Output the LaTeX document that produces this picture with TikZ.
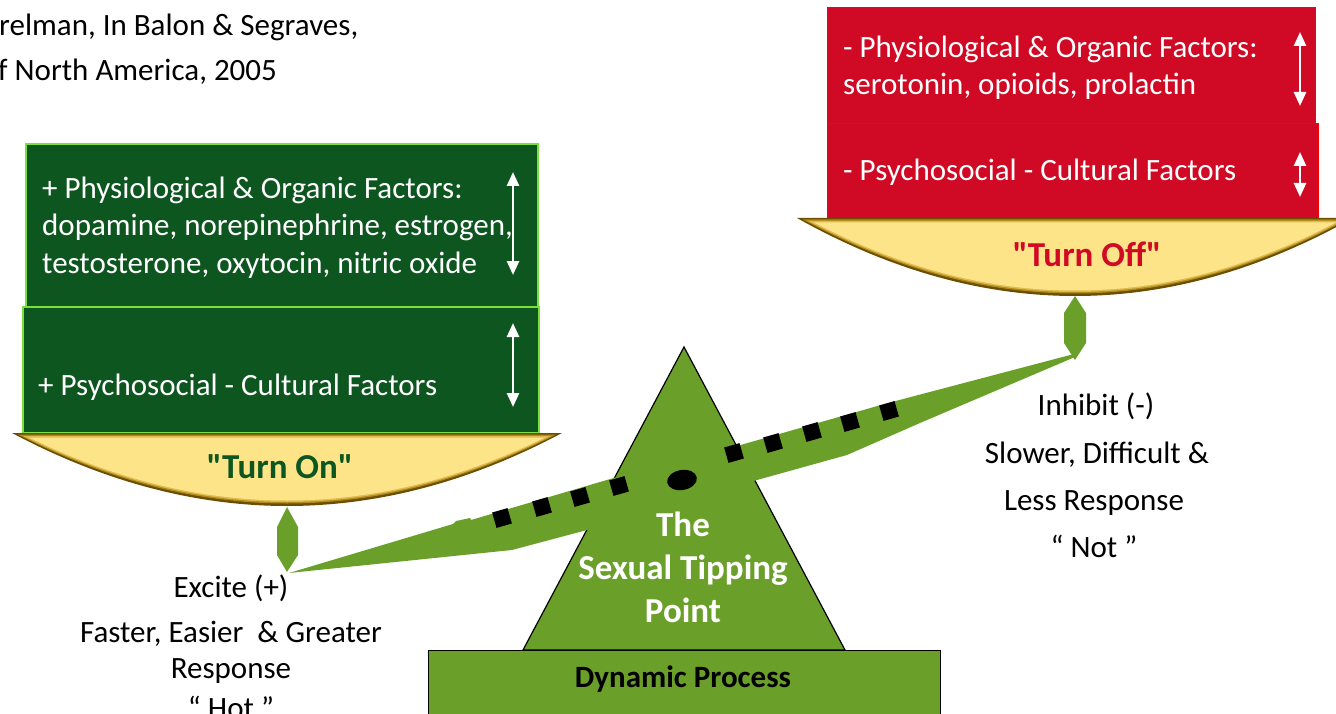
\documentclass[tikz,border=0pt]{standalone}
\usepackage{fontspec}
\setmainfont{Carlito}[Ligatures=TeXOff]
\usetikzlibrary{arrows.meta}
\definecolor{dkgreen}{HTML}{0E5620}
\definecolor{ltgreen}{HTML}{7CE03C}
\definecolor{redfill}{HTML}{D00A24}
\definecolor{redline}{HTML}{FF0000}
\definecolor{leaf}{HTML}{6AA02A}
\definecolor{panyellow}{HTML}{FEE488}
\definecolor{rimdark}{HTML}{6B4E00}
\definecolor{rimgold}{HTML}{B08A1A}
\definecolor{rimlight}{HTML}{DDBB50}
\begin{document}
\begin{tikzpicture}[x=1pt,y=-1pt,
  txt/.style={font=\fontsize{31}{37}\selectfont, inner sep=0pt},
  wtxt/.style={txt, text=white, anchor=base west},
  lbl/.style={txt, anchor=base},
  bold/.style={font=\fontsize{35}{40}\selectfont\bfseries, inner sep=0pt, anchor=base},
  tritxt/.style={font=\fontsize{35}{43}\selectfont\bfseries, inner sep=0pt, anchor=base, text=white},
  gbox/.style={draw=ltgreen, line width=1.6pt, fill=dkgreen, anchor=north west, inner sep=0pt},
  rbox/.style={draw=redline, line width=1.2pt, fill=redfill, anchor=north west, inner sep=0pt},
  dbl/.style={draw=white, line width=2.6pt, {Triangle[width=12pt,length=14pt]}-{Triangle[width=12pt,length=14pt]}},
  sq/.style={fill=black, minimum size=16pt, inner sep=0pt, rotate=16},
  pics/pan/.style 2 args={code={
    \foreach \pc/\pix/\pit/\pib in {rimdark/0/0/0, rimgold/6/1.5/2.5, rimlight/11/3/4, panyellow/17/4.5/5.5} {
      \pgfmathsetmacro\panW{#1-\pix}
      \pgfmathsetmacro\panB{#2-\pib}
      \pgfmathsetmacro\panCy{\pit+4*(\panB-\pit)/3}
      \pgfmathsetmacro\panCx{\panW/3}
      \fill[\pc] (-\panW,\pit) -- (\panW,\pit) .. controls (\panCx,\panCy) and (-\panCx,\panCy) .. (-\panW,\pit) -- cycle;
    }
  }}
]
\useasboundingbox (0,0) rectangle (1336,714);

% citation
\node[txt, anchor=base west] (cite1) at (-1,36) {relman, In Balon \& Segraves,};
\node[txt, anchor=base west] (cite2) at (-2,81) {f North America, 2005};

% green boxes
\node[gbox, minimum width=516pt, minimum height=126pt] (g2) at (22,306) {};
\node[gbox, minimum width=512pt, minimum height=163pt] (g1) at (25,143) {};
\node[wtxt] (g1a) at (42,199) {+ Physiological \& Organic Factors:};
\node[wtxt] (g1b) at (42,236) {dopamine, norepinephrine, estrogen,};
\node[wtxt] (g1c) at (42,273) {testosterone, oxytocin, nitric oxide};
\node[wtxt] (g2a) at (38,395) {+ Psychosocial - Cultural Factors};
\coordinate (ga1) at (513,172); \coordinate (ga2) at (513,275);
\coordinate (gb1) at (513,323); \coordinate (gb2) at (513,407);
\draw[dbl] (ga1) -- (ga2);
\draw[dbl] (gb1) -- (gb2);

% red boxes
\node[rbox, minimum width=491pt, minimum height=95pt] (r2) at (827,123) {};
\node[rbox, minimum width=488pt, minimum height=116pt] (r1) at (827,7) {};
\node[wtxt] (r1a) at (843,58) {- Physiological \& Organic Factors:};
\node[wtxt] (r1b) at (843,95) {serotonin, opioids, prolactin};
\node[wtxt] (r2a) at (843,181) {- Psychosocial - Cultural Factors};
\coordinate (ra1) at (1300,32); \coordinate (ra2) at (1300,106);
\coordinate (rb1) at (1300,152); \coordinate (rb2) at (1300,197);
\draw[dbl] (ra1) -- (ra2);
\draw[dbl] (rb1) -- (rb2);

% pans
\pic at (287,433) {pan={275}{73}};
\pic at (1075,218) {pan={278}{78}};
\node[bold, text=dkgreen] (ton) at (280,478) {"Turn On"};
\node[bold, text=redfill] (toff) at (1087,266) {"Turn Off"};

% hangers
\fill[leaf] (287,507) -- (298,527) -- (298,555) -- (287,572) -- (277,555) -- (277,527) -- cycle;
\fill[leaf] (1075,296) -- (1086,313) -- (1086,343) -- (1075,360) -- (1064,343) -- (1064,313) -- cycle;

% base and fulcrum
\node[draw=black, fill=leaf, line width=1.2pt, minimum width=512pt, minimum height=80pt, anchor=north west, inner sep=0pt] (base) at (428,650) {};
\node[font=\fontsize{31}{36}\selectfont\bfseries, inner sep=0pt, anchor=base] (dyn) at (683,687) {Dynamic Process};
\filldraw[fill=leaf, draw=black, line width=1.2pt] (684,347) -- (845,650) -- (523,650) -- cycle;

% beam
\fill[leaf] (289,573) -- (453,524) -- (456,521) -- (470,518) -- (471,520) -- (617,477) -- (723,450) -- (888,403) -- (1074,354)
  -- (1075,357) -- (920,423) -- (847,455) -- (757,480) -- (587,530) -- (512,550) -- cycle;
\foreach \sx/\sy [count=\k] in {502/518, 542/507, 580/497, 619/486, 734/453, 773/443, 812/432, 850/422, 889/411}
  \node[sq] (sq\k) at (\sx,\sy) {};
\fill[black, rotate around={10:(682,480)}] (682,480) ellipse [x radius=15, y radius=10];

\node[tritxt] (t1) at (683,536) {The};
\node[tritxt] (t2) at (683,579) {Sexual Tipping};
\node[tritxt] (t3) at (683,622) {Point};

% labels
\node[lbl] (ex1) at (231,597) {Excite (+)};
\node[lbl] (ex2) at (231,642) {Faster, Easier\ \ \& Greater};
\node[lbl] (ex3) at (231,678) {Response};
\node[lbl] (ex4) at (231,718) {“ Hot ”};
\node[lbl] (in1) at (1096,415) {Inhibit (-)};
\node[lbl] (in2) at (1097,463) {Slower, Difficult \&};
\node[lbl] (in3) at (1094,510) {Less Response};
\node[lbl] (in4) at (1094,557) {“ Not ”};
\end{tikzpicture}
\end{document}
